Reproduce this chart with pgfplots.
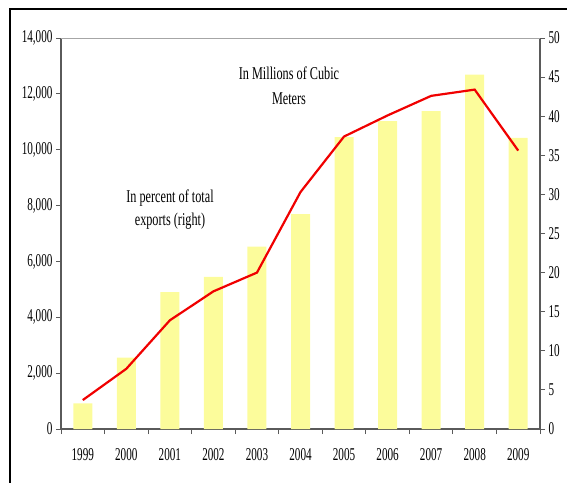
\documentclass[border=0pt]{standalone}
\usepackage{fontspec}
\setmainfont{Liberation Serif}[FakeStretch=0.62]
\newfontfamily\notefont{Liberation Serif}[FakeStretch=0.68]
\usepackage{pgfplots}
\pgfplotsset{compat=1.18}

\definecolor{barfill}{RGB}{252,252,155}
\definecolor{linered}{RGB}{240,0,0}
\definecolor{axisgray}{RGB}{90,90,90}

\pgfplotstableread{
x  year  volume  share
0  1999  920     3.7
1  2000  2555    7.7
2  2001  4905    13.9
3  2002  5445    17.6
4  2003  6530    20.0
5  2004  7690    30.3
6  2005  10450   37.4
7  2006  11025   40.1
8  2007  11380   42.6
9  2008  12690   43.4
10 2009  10420   35.6
}\gasdata

\begin{document}
\begin{tikzpicture}[x=1pt,y=1pt]
\useasboundingbox (0,0) rectangle (567,483);
% outer frame (top and left edges)
\draw[line width=2pt,black] (567,474) -- (10,474) -- (10,0);

% exports volume, left axis
\begin{axis}[
  at={(61pt,54pt)}, anchor=south west,
  scale only axis, width=479pt, height=391pt,
  xmin=-0.5, xmax=10.5,
  ymin=0, ymax=14000,
  ytick={0,2000,...,14000},
  xtick={-0.5,0.5,...,10.5},
  xticklabels={},
  extra x ticks={0,...,10},
  extra x tick labels={1999,2000,2001,2002,2003,2004,2005,2006,2007,2008,2009},
  extra x tick style={major tick length=0pt, xticklabel style={yshift=-16pt}},
  axis x line*=bottom,
  axis y line*=left,
  tick align=outside,
  major tick length=5pt,
  tick style={axisgray, line width=0.9pt},
  axis line style={axisgray, line width=1.3pt},
  tick label style={font=\fontsize{18}{20}\selectfont},
  yticklabel style={/pgf/number format/.cd, 1000 sep={,}, assume math mode=true},
  scaled y ticks=false,
  clip=false,
]
\addplot[ybar, bar width=19pt, fill=barfill, draw=none] table[x=x, y=volume] {\gasdata};
\end{axis}

% share of total exports, right axis
\begin{axis}[
  at={(61pt,54pt)}, anchor=south west,
  scale only axis, width=479pt, height=391pt,
  xmin=-0.5, xmax=10.5,
  ymin=0, ymax=50,
  ytick={0,5,...,50},
  axis y line*=right,
  axis x line=none,
  tick align=outside,
  major tick length=5pt,
  tick style={axisgray, line width=0.9pt},
  axis line style={axisgray, line width=1.3pt},
  tick label style={font=\fontsize{18}{20}\selectfont},
  yticklabel style={/pgf/number format/assume math mode=true},
]
\addplot[linered, line width=2.2pt, mark=none] table[x=x, y=share] {\gasdata};
\end{axis}

% top border of the plot area
\draw[gray!70, line width=0.8pt] (61,445) -- (540,445);

\node[align=center, font=\notefont\fontsize{18}{25}\selectfont] at (289,397.5)
  {In Millions of Cubic\\Meters};
\node[align=center, font=\notefont\fontsize{18}{23}\selectfont] at (170,273.5)
  {In percent of total\\exports (right)};
\end{tikzpicture}
\end{document}
